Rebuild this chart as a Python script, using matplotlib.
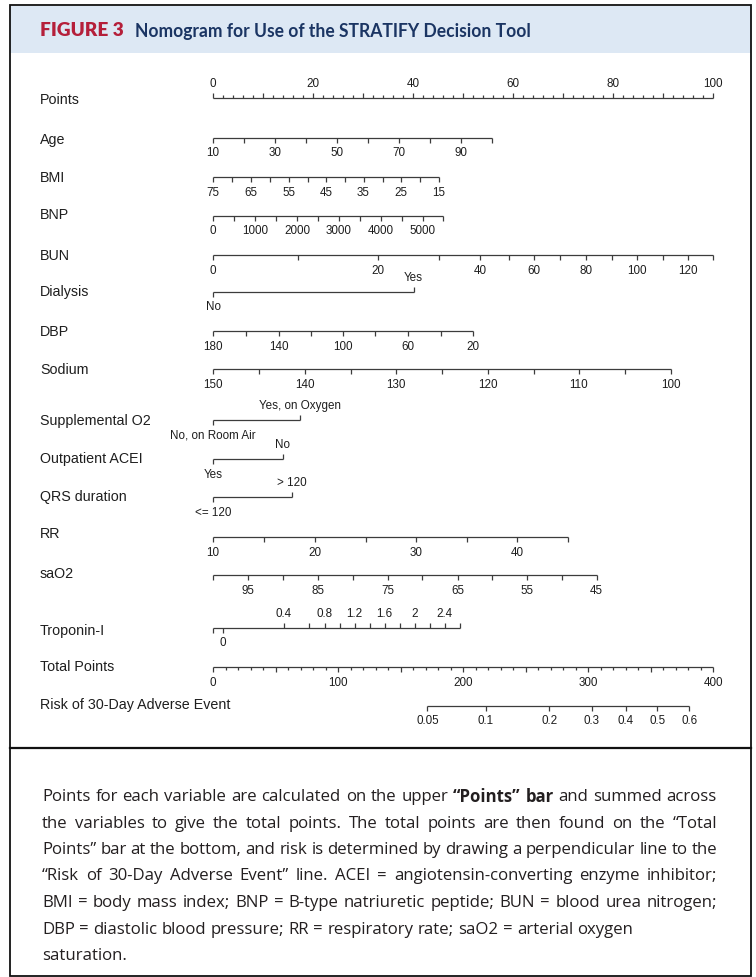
import matplotlib
matplotlib.use("Agg")
import matplotlib.pyplot as plt
from matplotlib.patches import Rectangle
from matplotlib.transforms import Affine2D

W, H = 756, 977

# ---- nomogram scales: variable value -> points ----
points_ticks = list(range(0, 101, 2))
points_labels = [str(v) if v % 20 == 0 else "" for v in points_ticks]

age_vals = [10, 20, 30, 40, 50, 60, 70, 80, 90, 100]
age_pts = [0, 6.2, 12.4, 18.6, 24.8, 31.0, 37.1, 43.3, 49.5, 55.7]
age_labels = ["10", "", "30", "", "50", "", "70", "", "90", ""]

bmi_vals = [75, 70, 65, 60, 55, 50, 45, 40, 35, 30, 25, 20, 15]
bmi_pts = [0, 3.85, 7.6, 11.3, 15.1, 18.9, 22.6, 26.4, 30.1, 33.9, 37.6, 41.3, 45.1]
bmi_labels = ["75", "", "65", "", "55", "", "45", "", "35", "", "25", "", "15"]

bnp_vals = [0, 500, 1000, 1500, 2000, 2500, 3000, 3500, 4000, 4500, 5000, 5500]
bnp_pts = [0, 4.2, 8.35, 12.6, 16.8, 21.0, 25.1, 29.3, 33.5, 37.7, 41.9, 46.0]
bnp_labels = ["0", "", "1000", "", "2000", "", "3000", "", "4000", "", "5000", ""]

bun_vals = [0, 10, 20, 30, 40, 50, 60, 70, 80, 90, 100, 110, 120, 130]
bun_pts = [0, 16.9, 33.0, 45.2, 53.4, 59.1, 64.2, 69.4, 74.5, 79.7, 84.8, 89.9, 95.0, 100]
bun_labels = ["0", "", "20", "", "40", "", "60", "", "80", "", "100", "", "120", ""]

dialysis_levels = ["No", "Yes"]
dialysis_pts = [0, 40.1]

dbp_vals = [180, 160, 140, 120, 100, 80, 60, 40, 20]
dbp_pts = [0, 6.6, 13.1, 19.6, 26.0, 32.4, 38.9, 45.5, 51.9]
dbp_labels = ["180", "", "140", "", "100", "", "60", "", "20"]

sodium_vals = [150, 145, 140, 135, 130, 125, 120, 115, 110, 105, 100]
sodium_pts = [0, 9.2, 18.3, 27.5, 36.6, 45.8, 54.9, 64.1, 73.1, 82.3, 91.5]
sodium_labels = ["150", "", "140", "", "130", "", "120", "", "110", "", "100"]

o2_levels = ["No, on Room Air", "Yes, on Oxygen"]
o2_pts = [0, 17.4]

acei_levels = ["Yes", "No"]
acei_pts = [0, 13.9]

qrs_levels = ["<= 120", "> 120"]
qrs_pts = [0, 15.8]

rr_vals = [10, 15, 20, 25, 30, 35, 40, 45]
rr_pts = [0, 10.2, 20.3, 30.5, 40.6, 50.8, 60.8, 71.0]
rr_labels = ["10", "", "20", "", "30", "", "40", ""]

sao2_vals = [100, 95, 90, 85, 80, 75, 70, 65, 60, 55, 50, 45]
sao2_pts = [0, 7.0, 14.0, 21.0, 27.9, 34.9, 41.8, 48.9, 55.8, 62.7, 69.7, 76.7]
sao2_labels = ["", "95", "", "85", "", "75", "", "65", "", "55", "", "45"]

trop_vals = [None, 0, 0.4, 0.6, 0.8, 1.0, 1.2, 1.4, 1.6, 1.8, 2.0, 2.2, 2.4, 2.6]
trop_pts = [0, 2.0, 14.1, 19.2, 22.3, 25.3, 28.3, 31.3, 34.3, 37.3, 40.3, 43.3, 46.3, 49.3]
trop_labels = ["", "0", "0.4", "", "0.8", "", "1.2", "", "1.6", "", "2", "", "2.4", ""]

total_ticks = list(range(0, 401, 10))
total_labels = [str(v) if v % 100 == 0 else "" for v in total_ticks]

risk_vals = ["0.05", "0.1", "0.2", "0.3", "0.4", "0.5", "0.6"]
risk_total = [171.5, 218, 269, 303, 330, 355.5, 381]

caption = [
    [("Points for each variable are calculated on the upper", False),
     ("\u201cPoints\u201d bar", True), ("and summed across", False)],
    [("the variables to give the total points. The total points are then found on the \u201cTotal", False)],
    [("Points\u201d bar at the bottom, and risk is determined by drawing a perpendicular line to the", False)],
    [("\u201cRisk of 30-Day Adverse Event\u201d line. ACEI = angiotensin-converting enzyme inhibitor;", False)],
    [("BMI = body mass index; BNP = B-type natriuretic peptide; BUN = blood urea nitrogen;", False)],
    [("DBP = diastolic blood pressure; RR = respiratory rate; saO2 = arterial oxygen", False)],
    [("saturation.", False)],
]

# ---- style / layout ----
LINE = "#3c3c3c"
TXT = "#1e1e1e"
LW = 0.9
FONT = "Liberation Sans"
LAB_FS = 10.3
TICK_FS = 8.4
CAP_FONT = "Open Sans"

fig = plt.figure(figsize=(W / 100, H / 100), dpi=100)
ax = fig.add_axes([0, 0, 1, 1])
# points 0 -> pixel 213, points 100 -> pixel 713
ax.set_xlim(-213 / 5, (W - 213) / 5)
ax.set_ylim(H, 0)
ax.axis("off")

# pixel coordinates for everything outside the nomogram scales
pix = Affine2D().scale(1 / W, -1 / H).translate(0, 1) + fig.transFigure
renderer = fig.canvas.get_renderer()


def draw_axis(y, pts, labels, sides=None, lens=None):
    n = len(pts)
    sides = sides or ["below"] * n
    lens = lens or [5] * n
    ax.hlines(y, min(pts), max(pts), color=LINE, lw=LW)
    for p, lab, sd, ln in zip(pts, labels, sides, lens):
        d = -1 if sd == "above" else 1
        ax.vlines(p, y, y + d * ln, color=LINE, lw=LW)
        if lab:
            ax.text(p, y + d * (14 if d < 0 else 15.5), lab, ha="center",
                    va="center", fontsize=TICK_FS, family=FONT, color=TXT)


def draw_levels(y, levels, pts):
    draw_axis(y, pts, levels, sides=["below", "above"])


draw_axis(98, points_ticks, points_labels, sides=["above"] * len(points_ticks),
          lens=[5 if v % 10 == 0 else 3 for v in points_ticks])
draw_axis(138, age_pts, age_labels)
draw_axis(177, bmi_pts, bmi_labels)
draw_axis(216, bnp_pts, bnp_labels)
draw_axis(255, bun_pts, bun_labels)
draw_levels(292, dialysis_levels, dialysis_pts)
draw_axis(331, dbp_pts, dbp_labels)
draw_axis(369, sodium_pts, sodium_labels)
draw_levels(420, o2_levels, o2_pts)
draw_levels(459, acei_levels, acei_pts)
draw_levels(497, qrs_levels, qrs_pts)
draw_axis(537, rr_pts, rr_labels)
draw_axis(575, sao2_pts, sao2_labels)
draw_axis(628, trop_pts, trop_labels,
          sides=["below", "below"] + ["above"] * (len(trop_pts) - 2))
draw_axis(667, [t / 4 for t in total_ticks], total_labels,
          lens=[5 if v % 50 == 0 else 3 for v in total_ticks])
draw_axis(706, [t / 4 for t in risk_total], risk_vals)

row_names = ["Points", "Age", "BMI", "BNP", "BUN", "Dialysis", "DBP", "Sodium",
             "Supplemental O2", "Outpatient ACEI", "QRS duration", "RR", "saO2",
             "Troponin-I", "Total Points", "Risk of 30-Day Adverse Event"]
row_label_y = [100, 140, 178, 215, 256, 292, 332, 370, 421, 459, 497, 534, 574,
               631, 667, 705]
for name, yy in zip(row_names, row_label_y):
    fig.text(40, yy, name, transform=pix, ha="left", va="center",
             fontsize=LAB_FS, family=FONT, color=TXT)

# ---- frame, header band, separator ----
fig.patches.append(Rectangle((10, 6), 741, 47, transform=pix,
                             facecolor="#dde8f4", edgecolor="none", zorder=0))
fig.patches.append(Rectangle((10, 5), 741, 971, transform=pix,
                             facecolor="none", edgecolor="#111111", lw=1.3))
fig.lines.append(plt.Line2D([10, 751], [748, 748], transform=pix,
                            color="#111111", lw=1.6))


def fit_text(x, y, s, width, **kw):
    t = fig.text(x, y, s, transform=pix, **kw)
    w = t.get_window_extent(renderer).width
    t.set_fontsize(t.get_fontsize() * width / w)
    return t


fit_text(40, 31, "FIGURE 3", 83, ha="left", va="center", family="Lato",
         weight="heavy", color="#b51f3a", fontsize=12)
fit_text(135, 31, "Nomogram for Use of the STRATIFY Decision Tool", 395,
         ha="left", va="center", family="Lato", weight="bold",
         color="#1b3563", fontsize=12)

# ---- caption, justified word by word ----
CX0, CX1 = 42, 717
cap_y = [797, 823.5, 850, 876.5, 903, 929.5, 956]


def word_list(line):
    out = []
    for seg, bold in line:
        for w in seg.split(" "):
            out.append((w, bold))
    return out


def text_w(s, fs, bold=False):
    t = fig.text(0, 0, s, fontsize=fs, family=CAP_FONT,
                 weight="bold" if bold else "normal")
    w = t.get_window_extent(renderer).width
    t.remove()
    return w


# font size chosen so the widest justified line still keeps normal word gaps
base = 11.0
sp0 = text_w("a a", base) - text_w("aa", base)
need = 0
for line in caption[:5]:
    words = word_list(line)
    need = max(need, sum(text_w(w, base, b) for w, b in words)
               + 0.9 * sp0 * (len(words) - 1))
CAP_FS = base * (CX1 - CX0) / need
space = text_w("a a", CAP_FS) - text_w("aa", CAP_FS)

for i, (line, yy) in enumerate(zip(caption, cap_y)):
    words = word_list(line)
    texts, widths = [], []
    for w, bold in words:
        t = fig.text(0, yy, w, transform=pix, ha="left", va="center",
                     fontsize=CAP_FS, family=CAP_FONT,
                     weight="bold" if bold else "normal", color="#231f20")
        texts.append(t)
        widths.append(t.get_window_extent(renderer).width)
    if i < 5 and len(words) > 1:
        gap = (CX1 - CX0 - sum(widths)) / (len(words) - 1)
    else:
        gap = space
    x = CX0
    for t, w in zip(texts, widths):
        t.set_position((x, yy))
        x += w + gap

fig.savefig("out.png", dpi=100)
